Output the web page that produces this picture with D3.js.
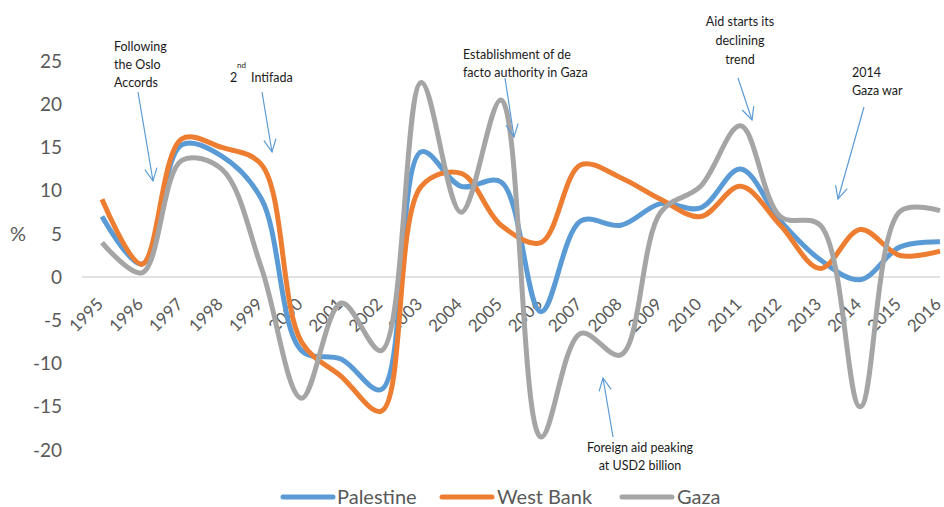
<!DOCTYPE html>
<html><head><meta charset="utf-8">
<script src="https://cdn.jsdelivr.net/npm/d3@7"></script>
<style>body{margin:0;background:#fff}svg{display:block}</style>
</head><body>
<svg id="c" width="944" height="507"></svg>
<script>
const years = ["1995","1996","1997","1998","1999","2000","2001","2002","2003","2004","2005","2006","2007","2008","2009","2010","2011","2012","2013","2014","2015","2016"];
const palestine = [7,1.5,15.3,14,9,-8.5,-9.5,-13,14.5,10.5,11,-4,6.5,6,8.5,8,12.5,6.5,2,-0.3,3.5,4.1];
const westBank  = [9,1.5,16,15,13,-7.5,-11.5,-15.5,10.5,12,6,4,13,11.5,9,7,10.5,6,1,5.5,2.5,3];
const gaza      = [4,0.5,13.5,12.5,1,-14,-3,-8.5,22.5,7.5,20.5,-18.5,-6.5,-9,7.5,10.5,17.5,7,6,-15,7.6,7.7];
const yTicks = [-20,-15,-10,-5,0,5,10,15,20,25];
const seriesNames = ["Palestine","West Bank","Gaza"];
const colors = ["#5B9BD5","#ED7D31","#A5A5A5"];

const svg = d3.select("#c");
const x = d3.scalePoint().domain(years).range([102,940]);
const y = d3.scaleLinear().domain([-20,25]).range([450,61]);
const font = "Lato, 'Open Sans', sans-serif";

// zero line
svg.append("line").attr("x1",82).attr("x2",940).attr("y1",y(0)).attr("y2",y(0))
  .attr("stroke","#D9D9D9").attr("stroke-width",1.5);

// y ticks
svg.append("g").selectAll("text").data(yTicks).join("text")
  .attr("x",62).attr("y",d=>y(d)).attr("dy","0.35em").attr("text-anchor","end")
  .attr("font-family",font).attr("font-size",19).attr("fill","#595959").text(d=>d);
svg.append("text").attr("x",10).attr("y",y(5)).attr("dy","0.35em")
  .attr("font-family",font).attr("font-size",20).attr("fill","#595959").text("%");

// x labels
svg.append("g").selectAll("text").data(years).join("text")
  .attr("transform",d=>`translate(${x(d)-2},${301}) rotate(-45)`)
  .attr("text-anchor","end").attr("dy","0.35em")
  .attr("font-family",font).attr("font-size",17).attr("fill","#595959").text(d=>d);

// lines
const line = d3.line().x((d,i)=>x(years[i])).y(d=>y(d)).curve(d3.curveCatmullRom.alpha(0.5));
const all = [palestine,westBank,gaza];
[0,1,2].forEach(i=>{
  svg.append("path").attr("d",line(all[i])).attr("fill","none")
    .attr("stroke",colors[i]).attr("stroke-width",5).attr("stroke-linejoin","round");
});

// annotations
const ann = svg.append("g").attr("font-family","Lato, 'Open Sans', sans-serif").attr("font-size",12.5).attr("fill","#1a1a1a");
function txt(lines, x0, y0, anchor, lh){
  lines.forEach((t,i)=>ann.append("text").attr("x",x0).attr("y",y0+i*lh).attr("text-anchor",anchor).text(t));
}
txt(["Following","the Oslo","Accords"],114,51,"start",18);
ann.append("text").attr("x",230).attr("y",82).text("2");
ann.append("text").attr("x",237).attr("y",68).attr("font-size",8).text("nd");
ann.append("text").attr("x",251).attr("y",82).text("Intifada");
txt(["Establishment of de","facto authority in Gaza"],463,59,"start",18);
txt(["Aid starts its","declining","trend"],740,26,"middle",19);
txt(["2014","Gaza war"],852,77,"start",18);
txt(["Foreign aid peaking","at USD2 billion"],640,452,"middle",18);

function arrow(x1,y1,x2,y2){
  const g = svg.append("g").attr("stroke","#5B9BD5").attr("stroke-width",1.2).attr("fill","none");
  g.append("line").attr("x1",x1).attr("y1",y1).attr("x2",x2).attr("y2",y2);
  const a = Math.atan2(y2-y1,x2-x1), L=14, s=0.45;
  const p1=[x2-L*Math.cos(a-s), y2-L*Math.sin(a-s)], p2=[x2-L*Math.cos(a+s), y2-L*Math.sin(a+s)];
  g.append("path").attr("d",`M${p1}L${x2},${y2}L${p2}`);
}
arrow(138,92,153,181);
arrow(262,92,272,152);
arrow(505,78,514,137);
arrow(738,78,752,120);
arrow(864,107,838,199);
arrow(613,437,603,378);

// legend
const leg = [[283,337],[442,497],[622,677]];
seriesNames.forEach((n,i)=>{
  svg.append("line").attr("x1",leg[i][0]).attr("x2",leg[i][0]+50).attr("y1",497).attr("y2",497)
    .attr("stroke",colors[i]).attr("stroke-width",5).attr("stroke-linecap","round");
  svg.append("text").attr("x",leg[i][1]).attr("y",497).attr("dy","0.35em")
    .attr("font-family",font).attr("font-size",20).attr("fill","#595959").text(n);
});
</script>
</body></html>
